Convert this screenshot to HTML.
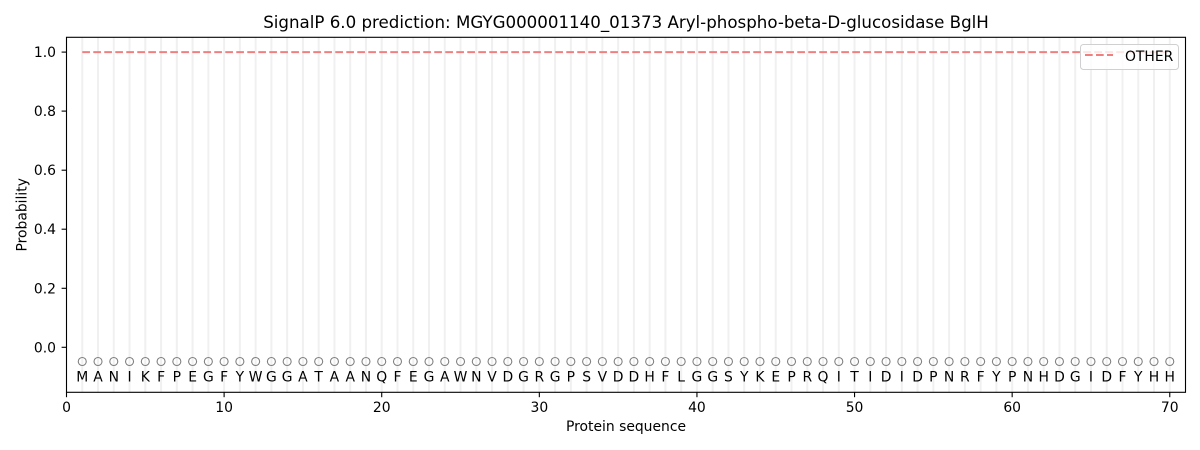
<!DOCTYPE html>
<html><head><meta charset="utf-8"><style>
html,body{margin:0;padding:0;background:#fff;}
svg{display:block;}
text{font-family:"DejaVu Sans","Liberation Sans",sans-serif;}
</style></head><body>
<svg width="1200" height="450" viewBox="0 0 1200 450" xmlns="http://www.w3.org/2000/svg">
<rect width="1200" height="450" fill="#fff"/>
<!-- gridlines -->
<path stroke="#f0f0f0" stroke-width="2" fill="none" d="M82.26 37.3V392.3M98.02 37.3V392.3M113.78 37.3V392.3M129.54 37.3V392.3M145.31 37.3V392.3M161.07 37.3V392.3M176.83 37.3V392.3M192.59 37.3V392.3M208.35 37.3V392.3M224.11 37.3V392.3M239.87 37.3V392.3M255.63 37.3V392.3M271.39 37.3V392.3M287.15 37.3V392.3M302.92 37.3V392.3M318.68 37.3V392.3M334.44 37.3V392.3M350.2 37.3V392.3M365.96 37.3V392.3M381.72 37.3V392.3M397.48 37.3V392.3M413.24 37.3V392.3M429 37.3V392.3M444.76 37.3V392.3M460.53 37.3V392.3M476.29 37.3V392.3M492.05 37.3V392.3M507.81 37.3V392.3M523.57 37.3V392.3M539.33 37.3V392.3M555.09 37.3V392.3M570.85 37.3V392.3M586.61 37.3V392.3M602.37 37.3V392.3M618.14 37.3V392.3M633.9 37.3V392.3M649.66 37.3V392.3M665.42 37.3V392.3M681.18 37.3V392.3M696.94 37.3V392.3M712.7 37.3V392.3M728.46 37.3V392.3M744.22 37.3V392.3M759.98 37.3V392.3M775.75 37.3V392.3M791.51 37.3V392.3M807.27 37.3V392.3M823.03 37.3V392.3M838.79 37.3V392.3M854.55 37.3V392.3M870.31 37.3V392.3M886.07 37.3V392.3M901.83 37.3V392.3M917.59 37.3V392.3M933.36 37.3V392.3M949.12 37.3V392.3M964.88 37.3V392.3M980.64 37.3V392.3M996.4 37.3V392.3M1012.16 37.3V392.3M1027.92 37.3V392.3M1043.68 37.3V392.3M1059.44 37.3V392.3M1075.2 37.3V392.3M1090.97 37.3V392.3M1106.73 37.3V392.3M1122.49 37.3V392.3M1138.25 37.3V392.3M1154.01 37.3V392.3M1169.77 37.3V392.3"/>
<!-- dashed line -->
<line x1="82.26" y1="52.1" x2="1169.77" y2="52.1" stroke="#f08080" stroke-width="2" stroke-dasharray="7.7 3.3"/>
<!-- circles -->
<g fill="none" stroke="#808080" stroke-width="1.1">
<circle cx="82.26" cy="361.5" r="4"/><circle cx="98.02" cy="361.5" r="4"/><circle cx="113.78" cy="361.5" r="4"/><circle cx="129.54" cy="361.5" r="4"/><circle cx="145.31" cy="361.5" r="4"/><circle cx="161.07" cy="361.5" r="4"/><circle cx="176.83" cy="361.5" r="4"/><circle cx="192.59" cy="361.5" r="4"/><circle cx="208.35" cy="361.5" r="4"/><circle cx="224.11" cy="361.5" r="4"/>
<circle cx="239.87" cy="361.5" r="4"/><circle cx="255.63" cy="361.5" r="4"/><circle cx="271.39" cy="361.5" r="4"/><circle cx="287.15" cy="361.5" r="4"/><circle cx="302.92" cy="361.5" r="4"/><circle cx="318.68" cy="361.5" r="4"/><circle cx="334.44" cy="361.5" r="4"/><circle cx="350.2" cy="361.5" r="4"/><circle cx="365.96" cy="361.5" r="4"/><circle cx="381.72" cy="361.5" r="4"/>
<circle cx="397.48" cy="361.5" r="4"/><circle cx="413.24" cy="361.5" r="4"/><circle cx="429" cy="361.5" r="4"/><circle cx="444.76" cy="361.5" r="4"/><circle cx="460.53" cy="361.5" r="4"/><circle cx="476.29" cy="361.5" r="4"/><circle cx="492.05" cy="361.5" r="4"/><circle cx="507.81" cy="361.5" r="4"/><circle cx="523.57" cy="361.5" r="4"/><circle cx="539.33" cy="361.5" r="4"/>
<circle cx="555.09" cy="361.5" r="4"/><circle cx="570.85" cy="361.5" r="4"/><circle cx="586.61" cy="361.5" r="4"/><circle cx="602.37" cy="361.5" r="4"/><circle cx="618.14" cy="361.5" r="4"/><circle cx="633.9" cy="361.5" r="4"/><circle cx="649.66" cy="361.5" r="4"/><circle cx="665.42" cy="361.5" r="4"/><circle cx="681.18" cy="361.5" r="4"/><circle cx="696.94" cy="361.5" r="4"/>
<circle cx="712.7" cy="361.5" r="4"/><circle cx="728.46" cy="361.5" r="4"/><circle cx="744.22" cy="361.5" r="4"/><circle cx="759.98" cy="361.5" r="4"/><circle cx="775.75" cy="361.5" r="4"/><circle cx="791.51" cy="361.5" r="4"/><circle cx="807.27" cy="361.5" r="4"/><circle cx="823.03" cy="361.5" r="4"/><circle cx="838.79" cy="361.5" r="4"/><circle cx="854.55" cy="361.5" r="4"/>
<circle cx="870.31" cy="361.5" r="4"/><circle cx="886.07" cy="361.5" r="4"/><circle cx="901.83" cy="361.5" r="4"/><circle cx="917.59" cy="361.5" r="4"/><circle cx="933.36" cy="361.5" r="4"/><circle cx="949.12" cy="361.5" r="4"/><circle cx="964.88" cy="361.5" r="4"/><circle cx="980.64" cy="361.5" r="4"/><circle cx="996.4" cy="361.5" r="4"/><circle cx="1012.16" cy="361.5" r="4"/>
<circle cx="1027.92" cy="361.5" r="4"/><circle cx="1043.68" cy="361.5" r="4"/><circle cx="1059.44" cy="361.5" r="4"/><circle cx="1075.2" cy="361.5" r="4"/><circle cx="1090.97" cy="361.5" r="4"/><circle cx="1106.73" cy="361.5" r="4"/><circle cx="1122.49" cy="361.5" r="4"/><circle cx="1138.25" cy="361.5" r="4"/><circle cx="1154.01" cy="361.5" r="4"/><circle cx="1169.77" cy="361.5" r="4"/>
</g>
<!-- sequence letters -->
<g font-size="13.9" text-anchor="middle" fill="#000">
<text x="82.26" y="381.5">M</text><text x="98.02" y="381.5">A</text><text x="113.78" y="381.5">N</text><text x="129.54" y="381.5">I</text><text x="145.31" y="381.5">K</text><text x="161.07" y="381.5">F</text><text x="176.83" y="381.5">P</text><text x="192.59" y="381.5">E</text><text x="208.35" y="381.5">G</text><text x="224.11" y="381.5">F</text>
<text x="239.87" y="381.5">Y</text><text x="255.63" y="381.5">W</text><text x="271.39" y="381.5">G</text><text x="287.15" y="381.5">G</text><text x="302.92" y="381.5">A</text><text x="318.68" y="381.5">T</text><text x="334.44" y="381.5">A</text><text x="350.2" y="381.5">A</text><text x="365.96" y="381.5">N</text><text x="381.72" y="381.5">Q</text>
<text x="397.48" y="381.5">F</text><text x="413.24" y="381.5">E</text><text x="429" y="381.5">G</text><text x="444.76" y="381.5">A</text><text x="460.53" y="381.5">W</text><text x="476.29" y="381.5">N</text><text x="492.05" y="381.5">V</text><text x="507.81" y="381.5">D</text><text x="523.57" y="381.5">G</text><text x="539.33" y="381.5">R</text>
<text x="555.09" y="381.5">G</text><text x="570.85" y="381.5">P</text><text x="586.61" y="381.5">S</text><text x="602.37" y="381.5">V</text><text x="618.14" y="381.5">D</text><text x="633.9" y="381.5">D</text><text x="649.66" y="381.5">H</text><text x="665.42" y="381.5">F</text><text x="681.18" y="381.5">L</text><text x="696.94" y="381.5">G</text>
<text x="712.7" y="381.5">G</text><text x="728.46" y="381.5">S</text><text x="744.22" y="381.5">Y</text><text x="759.98" y="381.5">K</text><text x="775.75" y="381.5">E</text><text x="791.51" y="381.5">P</text><text x="807.27" y="381.5">R</text><text x="823.03" y="381.5">Q</text><text x="838.79" y="381.5">I</text><text x="854.55" y="381.5">T</text>
<text x="870.31" y="381.5">I</text><text x="886.07" y="381.5">D</text><text x="901.83" y="381.5">I</text><text x="917.59" y="381.5">D</text><text x="933.36" y="381.5">P</text><text x="949.12" y="381.5">N</text><text x="964.88" y="381.5">R</text><text x="980.64" y="381.5">F</text><text x="996.4" y="381.5">Y</text><text x="1012.16" y="381.5">P</text>
<text x="1027.92" y="381.5">N</text><text x="1043.68" y="381.5">H</text><text x="1059.44" y="381.5">D</text><text x="1075.2" y="381.5">G</text><text x="1090.97" y="381.5">I</text><text x="1106.73" y="381.5">D</text><text x="1122.49" y="381.5">F</text><text x="1138.25" y="381.5">Y</text><text x="1154.01" y="381.5">H</text><text x="1169.77" y="381.5">H</text>
</g>
<!-- legend -->
<rect x="1080.5" y="44.5" width="98" height="25" rx="3" fill="#fff" fill-opacity="0.8" stroke="#d0d0d0" stroke-width="1"/>
<line x1="1085" y1="55" x2="1113" y2="55" stroke="#f08080" stroke-width="2" stroke-dasharray="7.7 3.3"/>
<text x="1125" y="61" font-size="13.9" fill="#000">OTHER</text>
<!-- frame -->
<rect x="66.5" y="37.3" width="1119" height="355" fill="none" stroke="#000" stroke-width="1.1"/>
<!-- x ticks -->
<g stroke="#000" stroke-width="1.1">
<line x1="66.5" y1="392.3" x2="66.5" y2="397.2"/>
<line x1="224.11" y1="392.3" x2="224.11" y2="397.2"/>
<line x1="381.72" y1="392.3" x2="381.72" y2="397.2"/>
<line x1="539.33" y1="392.3" x2="539.33" y2="397.2"/>
<line x1="696.94" y1="392.3" x2="696.94" y2="397.2"/>
<line x1="854.55" y1="392.3" x2="854.55" y2="397.2"/>
<line x1="1012.16" y1="392.3" x2="1012.16" y2="397.2"/>
<line x1="1169.77" y1="392.3" x2="1169.77" y2="397.2"/>
<!-- y ticks -->
<line x1="61.6" y1="347.3" x2="66.5" y2="347.3"/>
<line x1="61.6" y1="288.3" x2="66.5" y2="288.3"/>
<line x1="61.6" y1="229.2" x2="66.5" y2="229.2"/>
<line x1="61.6" y1="170.2" x2="66.5" y2="170.2"/>
<line x1="61.6" y1="111.1" x2="66.5" y2="111.1"/>
<line x1="61.6" y1="52.1" x2="66.5" y2="52.1"/>
</g>
<g font-size="13.9" fill="#000" text-anchor="middle">
<text x="66.5" y="412">0</text>
<text x="224.11" y="412">10</text>
<text x="381.72" y="412">20</text>
<text x="539.33" y="412">30</text>
<text x="696.94" y="412">40</text>
<text x="854.55" y="412">50</text>
<text x="1012.16" y="412">60</text>
<text x="1169.77" y="412">70</text>
</g>
<g font-size="13.9" fill="#000" text-anchor="end">
<text x="56" y="352.3">0.0</text>
<text x="56" y="293.3">0.2</text>
<text x="56" y="234.2">0.4</text>
<text x="56" y="175.2">0.6</text>
<text x="56" y="116.1">0.8</text>
<text x="56" y="57.1">1.0</text>
</g>
<text x="626" y="431" font-size="13.9" text-anchor="middle" fill="#000">Protein sequence</text>
<text transform="translate(26.5,214.8) rotate(-90)" x="0" y="0" font-size="13.9" text-anchor="middle" fill="#000">Probability</text>
<text x="626" y="28" font-size="16.67" text-anchor="middle" fill="#000">SignalP 6.0 prediction: MGYG000001140_01373 Aryl-phospho-beta-D-glucosidase BglH</text>
</svg>
</body></html>
